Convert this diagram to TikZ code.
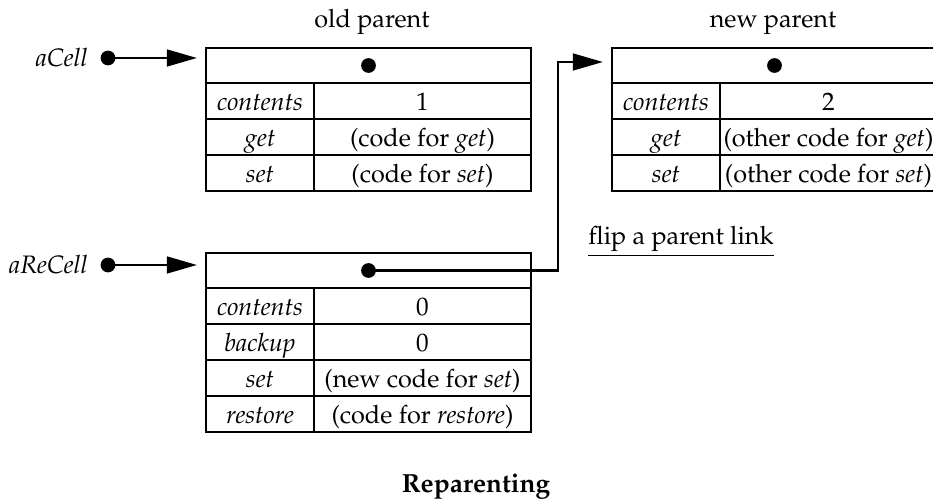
\documentclass[tikz,border=0pt]{standalone}
\usepackage[T1]{fontenc}
\usepackage{mathpazo}
\usetikzlibrary{positioning}
\usetikzlibrary{arrows.meta}
\tikzset{cell/.style={draw,line width=1.2pt,inner sep=0pt,outer sep=0pt,
   text height=8.8pt,text depth=1pt,minimum height=15.12pt},
 keycell/.style={cell,minimum width=45.36pt,font=\itshape},
 valcell/.style={cell,minimum width=91.14pt},
 hdrcell/.style={cell,minimum width=136.5pt,minimum height=14.7pt},
 ptr/.style={circle,fill,inner sep=0pt,minimum size=6.2pt},
 ref/.style={line width=1pt,-{Triangle[length=12.6pt,width=7pt]}},
 }

\begin{document}
\fontsize{10.6}{13}\selectfont
\begin{tikzpicture}[x=0.42pt,y=0.42pt]
        \useasboundingbox (0,0) rectangle (933,501);
        % old parent
        \node[anchor=base] (oldlbl) at (372,473) {old parent};
        \node[hdrcell,anchor=north west] (oldhdr) at (206,453) {};
        \node[ptr] (olddot) at (oldhdr.center) {};
        \node[keycell,anchor=north west] (oldk1) at (oldhdr.south west) {contents};
        \node[valcell,right=0pt of oldk1] (oldv1) {1};
        \node[keycell,below=0pt of oldk1] (oldk2) {get};
        \node[valcell,right=0pt of oldk2] (oldv2) {(code for \textit{get})};
        \node[keycell,below=0pt of oldk2] (oldk3) {set};
        \node[valcell,right=0pt of oldk3] (oldv3) {(code for \textit{set})};
        % new parent
        \node[anchor=base] (newlbl) at (773,473) {new parent};
        \node[hdrcell,anchor=north west] (newhdr) at (612,453) {};
        \node[ptr] (newdot) at (newhdr.center) {};
        \node[keycell,anchor=north west] (newk1) at (newhdr.south west) {contents};
        \node[valcell,right=0pt of newk1] (newv1) {2};
        \node[keycell,below=0pt of newk1] (newk2) {get};
        \node[valcell,right=0pt of newk2] (newv2) {(other code for \textit{get})};
        \node[keycell,below=0pt of newk2] (newk3) {set};
        \node[valcell,right=0pt of newk3] (newv3) {(other code for \textit{set})};
        % the re-cell
        \node[hdrcell,anchor=north west] (rechdr) at (206,248) {};
        \node[ptr] (recdot) at (rechdr.center) {};
        \node[keycell,anchor=north west] (reck1) at (rechdr.south west) {contents};
        \node[valcell,right=0pt of reck1] (recv1) {0};
        \node[keycell,below=0pt of reck1] (reck2) {backup};
        \node[valcell,right=0pt of reck2] (recv2) {0};
        \node[keycell,below=0pt of reck2] (reck3) {set};
        \node[valcell,right=0pt of reck3] (recv3) {(new code for \textit{set})};
        \node[keycell,below=0pt of reck3] (reck4) {restore};
        \node[valcell,right=0pt of reck4] (recv4) {(code for \textit{restore})};
        % variables
        \node[ptr] (acelldot) at (108,443) {};
        \node[left=1.5pt of acelldot] (acell) {\textit{aCell}};
        \node[ptr] (arecdot) at (108,236) {};
        \node[left=1.5pt of arecdot] (arec) {\textit{aReCell}};
        \draw[ref,shorten >=3.8pt] (acelldot.center) -- (acelldot -| oldhdr.west);
        \draw[ref,shorten >=3.8pt] (arecdot.center) -- (arecdot -| rechdr.west);
        % parent link
        \coordinate (turn) at (558,439);
        \draw[ref,shorten >=3.8pt] (recdot.center) -| (turn) -- (turn -| newhdr.west);
        \node[anchor=base] (flip) at (681,256) {\underline{flip a parent link}};
        \node[anchor=base,font=\fontsize{11}{13}\selectfont\bfseries] (title) at (476,8) {Reparenting};
    \end{tikzpicture}
\end{document}
